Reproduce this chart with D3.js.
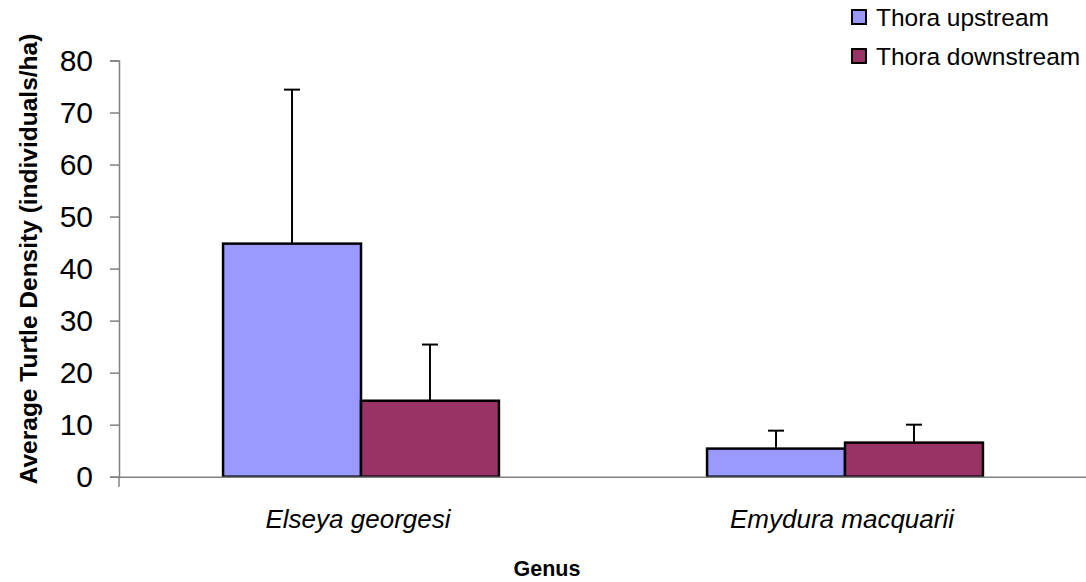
<!DOCTYPE html>
<html lang="en">
<head>
  <meta charset="UTF-8" />
  <title>Average Turtle Density by Genus</title>
  <script src="https://d3js.org/d3.v7.min.js"></script>
  <style>
    body {
      margin: 0;
      background: #fff;
      font-family: "Liberation Sans", Arial, sans-serif;
    }
    .bar {
      stroke: #000;
      stroke-width: 2.5;
    }
    .err {
      stroke: #000;
      stroke-width: 2;
      fill: none;
    }
  </style>
</head>
<body>

<svg width="1086" height="582"></svg>

<script>
  // data
  const genera = ["Elseya georgesi", "Emydura macquarii"];
  const series = ["Thora upstream", "Thora downstream"];
  const colors = ["#9999FF", "#993366"];
  const upstream = [44.8, 5.4];
  const upstreamErr = [74.4, 8.85];     // top of error bar
  const downstream = [14.6, 6.55];
  const downstreamErr = [25.4, 10.0];
  const yTicks = [0, 10, 20, 30, 40, 50, 60, 70, 80];

  const svg = d3.select("svg"),
        margin = {top: 60.5, right: -1, bottom: 105.3, left: 119},
        width = +svg.attr("width") - margin.left - margin.right,
        height = +svg.attr("height") - margin.top - margin.bottom,
        g = svg.append("g").attr("transform", `translate(${margin.left},${margin.top})`);

  const values = [upstream, downstream];
  const tops = [upstreamErr, downstreamErr];

  const x0 = d3.scaleBand()
    .domain(genera)
    .range([0, width]);

  const bw = x0.bandwidth();
  const x1 = d3.scaleBand()
    .domain(series)
    .range([bw * 0.215, bw * 0.785]);

  const y = d3.scaleLinear()
    .domain([0, 80])
    .range([height, 0]);

  // y axis
  const yAxis = d3.axisLeft(y)
    .tickValues(yTicks)
    .tickSize(9)
    .tickPadding(17);

  const ya = g.append("g").call(yAxis);
  ya.select(".domain").attr("stroke", "#808080").attr("stroke-width", 1.5);
  ya.selectAll(".tick line").attr("stroke", "#808080").attr("stroke-width", 1.5);
  ya.selectAll(".tick text")
    .attr("font-family", "'Liberation Sans', Arial, sans-serif")
    .attr("font-size", 30)
    .attr("fill", "#000");

  // bars and error bars
  series.forEach((s, si) => {
    genera.forEach((gen, gi) => {
      const v = values[si][gi];
      const bx = x0(gen) + x1(s);
      g.append("rect")
        .attr("class", "bar")
        .attr("x", bx)
        .attr("y", y(v))
        .attr("width", x1.bandwidth())
        .attr("height", y(0) - y(v))
        .attr("fill", colors[si]);

      const cx = bx + x1.bandwidth() / 2;
      const t = tops[si][gi];
      g.append("line").attr("class", "err")
        .attr("x1", cx).attr("x2", cx)
        .attr("y1", y(v)).attr("y2", y(t));
      g.append("line").attr("class", "err")
        .attr("x1", cx - 8).attr("x2", cx + 8)
        .attr("y1", y(t)).attr("y2", y(t));
    });
  });

  // x axis
  const xa = g.append("g")
    .attr("transform", `translate(0,${height})`)
    .call(d3.axisBottom(x0).tickSize(0).tickPadding(33));
  xa.select(".domain").attr("stroke", "#808080").attr("stroke-width", 1.5);
  xa.selectAll(".tick text")
    .attr("font-family", "'Liberation Sans', Arial, sans-serif")
    .attr("font-size", 26)
    .attr("font-style", "italic")
    .attr("dx", -3)
    .attr("fill", "#000");
  g.append("line")
    .attr("x1", 0).attr("x2", 0)
    .attr("y1", height).attr("y2", height + 10)
    .attr("stroke", "#808080").attr("stroke-width", 1.5);

  // axis titles
  svg.append("text")
    .attr("x", 547)
    .attr("y", 576)
    .attr("text-anchor", "middle")
    .attr("font-size", 21.5)
    .attr("font-weight", "bold")
    .text("Genus");

  svg.append("text")
    .attr("transform", "translate(37,259) rotate(-90)")
    .attr("text-anchor", "middle")
    .attr("font-size", 24.5)
    .attr("font-weight", "bold")
    .text("Average Turtle Density (individuals/ha)");

  // legend
  const legend = svg.append("g").attr("transform", "translate(852,10)");
  series.forEach((s, i) => {
    legend.append("rect")
      .attr("x", 0).attr("y", i * 39)
      .attr("width", 14).attr("height", 14)
      .attr("fill", colors[i])
      .attr("stroke", "#000").attr("stroke-width", 2);
    legend.append("text")
      .attr("x", 24).attr("y", i * 39 + 16)
      .attr("font-size", 24.5)
      .text(s);
  });
</script>

</body>
</html>
